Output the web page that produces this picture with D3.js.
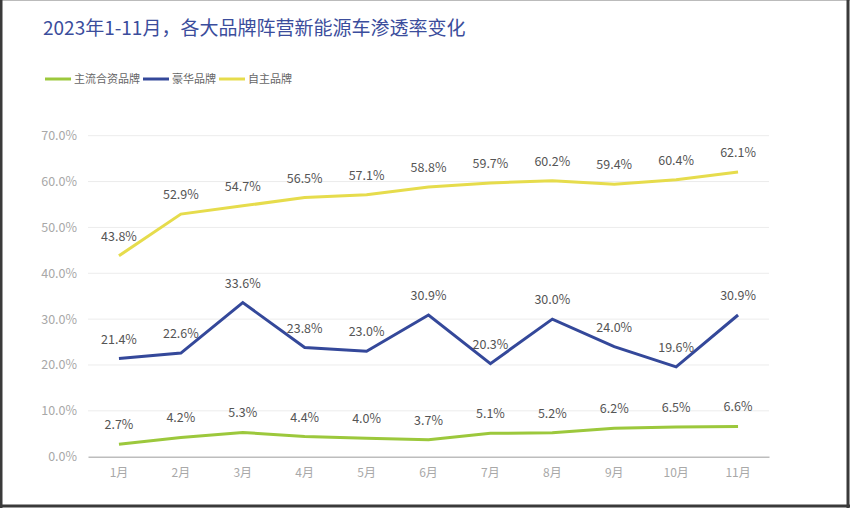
<!DOCTYPE html>
<html><head><meta charset="utf-8">
<script src="https://cdn.jsdelivr.net/npm/d3@7"></script>
<style>
html,body{margin:0;padding:0;background:#fff;}
svg{display:block;}
text{font-family:"Noto Sans CJK SC","Noto Sans",sans-serif;}
</style></head>
<body>
<svg id="chart" width="850" height="508"></svg>
<script>
const months = ["1月","2月","3月","4月","5月","6月","7月","8月","9月","10月","11月"];
const seriesNames = ["主流合资品牌","豪华品牌","自主品牌"];
const jointVenture = [2.7,4.2,5.3,4.4,4.0,3.7,5.1,5.2,6.2,6.5,6.6];
const luxury = [21.4,22.6,33.6,23.8,23.0,30.9,20.3,30.0,24.0,19.6,30.9];
const domestic = [43.8,52.9,54.7,56.5,57.1,58.8,59.7,60.2,59.4,60.4,62.1];
const yTicks = [0,10,20,30,40,50,60,70];
const colors = ["#9cc83c","#34489a","#e6dc4c"];

const svg = d3.select("#chart");
// frame
svg.append("rect").attr("x",0).attr("y",0).attr("width",850).attr("height",508).attr("fill","#fff");
svg.append("line").attr("x1",0).attr("x2",850).attr("y1",0.5).attr("y2",0.5).attr("stroke","#bbb").attr("stroke-width",1);
svg.append("line").attr("x1",1).attr("x2",1).attr("y1",0).attr("y2",508).attr("stroke","#3a3a3a").attr("stroke-width",3);
svg.append("line").attr("x1",848).attr("x2",848).attr("y1",0).attr("y2",508).attr("stroke","#3a3a3a").attr("stroke-width",3);
svg.append("line").attr("x1",0).attr("x2",850).attr("y1",506).attr("y2",506).attr("stroke","#3a3a3a").attr("stroke-width",3);

// title
svg.append("text").attr("x",43).attr("y",35).attr("fill","#3b4d9c")
  .attr("font-size",19).attr("font-weight",400)
  .text("2023年1-11月，各大品牌阵营新能源车渗透率变化");

const x = d3.scaleBand().domain(months).range([88,769]);
const y = d3.scaleLinear().domain([0,70]).range([456.7,135.7]);

// legend
let lx = 45;
seriesNames.forEach((n,i)=>{
  svg.append("line").attr("x1",lx).attr("x2",lx+26).attr("y1",79).attr("y2",79)
    .attr("stroke",colors[i]).attr("stroke-width",3);
  const t = svg.append("text").attr("x",lx+29).attr("y",83).attr("font-size",11).attr("fill","#666").text(n);
  lx += 29 + t.node().getComputedTextLength() + 3;
});

// grid
const g = svg.append("g");
g.selectAll(".grid").data(yTicks.filter(d=>d>0)).enter().append("line")
  .attr("x1",88).attr("x2",769).attr("y1",d=>y(d)).attr("y2",d=>y(d))
  .attr("stroke","#ececec").attr("stroke-width",1);

// y axis
const yAxis = d3.axisLeft(y).tickValues(yTicks).tickSize(0).tickPadding(0).tickFormat(d=>d.toFixed(1)+"%");
const ya = svg.append("g").attr("transform","translate(77,0)").call(yAxis);
ya.select(".domain").remove();
ya.selectAll("text").attr("font-size",12.5).attr("fill","#a8a8a8").attr("font-family","Liberation Sans, Arial, sans-serif");

// x axis
const xAxis = d3.axisBottom(x).tickSize(0).tickPadding(12);
const xa = svg.append("g").attr("transform",`translate(0,${y(0)})`).call(xAxis);
xa.select(".domain").attr("stroke","#bdbdbd").attr("stroke-width",1.5);
xa.selectAll("text").attr("font-size",12).attr("fill","#a8a8a8");

const cx = d => x(d) + x.bandwidth()/2;
const line = d3.line().x((d,i)=>cx(months[i])).y(d=>y(d));
[jointVenture,luxury,domestic].forEach((s,i)=>{
  svg.append("path").datum(s).attr("d",line).attr("fill","none")
    .attr("stroke",colors[i]).attr("stroke-width",3).attr("stroke-linejoin","miter");
  svg.selectAll(null).data(s).enter().append("text")
    .attr("x",(d,j)=>cx(months[j])).attr("y",d=>y(d)-15)
    .attr("text-anchor","middle").attr("font-size",12.5).attr("fill","#555")
    .attr("font-family","Liberation Sans, Arial, sans-serif")
    .text(d=>d.toFixed(1)+"%");
});
</script>
</body></html>
